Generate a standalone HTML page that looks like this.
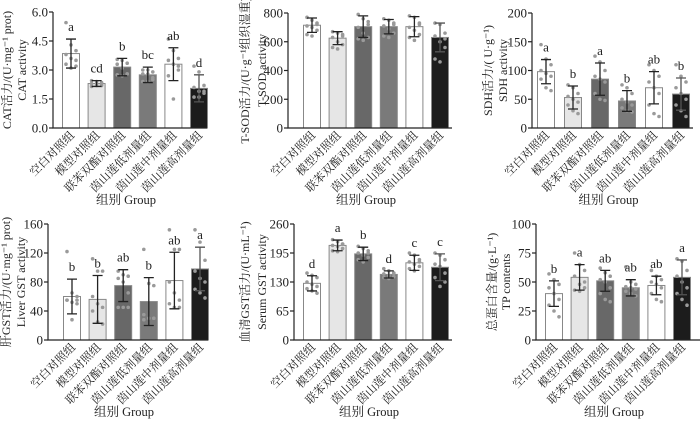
<!DOCTYPE html>
<html><head><meta charset="utf-8">
<style>
html,body{margin:0;padding:0;background:#fff;}
svg{display:block;font-family:"Liberation Serif","Noto Serif CJK SC",serif;}
</style></head>
<body>
<svg id="chart" width="700" height="429" viewBox="0 0 700 429" xmlns="http://www.w3.org/2000/svg"></svg>
<script>
const categories = ["空白对照组","模型对照组","联苯双酯对照组","茵山莲低剂量组","茵山莲中剂量组","茵山莲高剂量组"];
const catMeans = [3.85,2.3,3.15,2.75,3.3,2.05];
const catSd = [0.75,0.15,0.45,0.4,0.85,0.7];
const catLetters = ["a","cd","b","bc","ab","d"];
const catTicks = ["0.0","1.5","3.0","4.5","6.0"];
const catPts = [[5.45,4.3,4.0,3.8,3.6,3.5,3.3,3.1,3.2],[2.45,2.4,2.35,2.3,2.3,2.2,2.15,2.2,2.25],[3.55,3.5,3.35,3.3,3.1,2.8,2.75,2.7,2.8],[3.0,3.0,2.9,2.8,2.8,2.5,2.4,2.4,2.6],[4.6,4.0,3.6,3.5,3.3,3.0,2.7,1.5,3.2],[3.2,2.9,2.2,2.1,1.9,1.8,1.6,1.6,1.9]];
const sodMeans = [715,625,705,705,705,630];
const sodSd = [50,45,75,50,70,100];
const sodTicks = ["0","200","400","600","800"];
const sodPts = [[770,750,730,710,700,680,650,640,720],[670,660,650,630,600,580,560,550,640],[790,760,740,700,660,630,620,610,720],[760,750,730,710,690,660,640,630,720],[780,770,720,700,680,650,630,610,730],[730,720,660,640,600,560,480,460,620]];
const sdhMeans = [98,53,85,47,70,59];
const sdhSd = [21,20,28,18,28,28];
const sdhLetters = ["a","b","a","b","ab","b"];
const sdhTicks = ["0","50","100","150","200"];
const sdhPts = [[145,120,110,100,95,90,85,70,65],[75,70,60,55,50,45,40,30,25],[125,115,100,90,85,80,60,50,48],[75,70,60,50,45,40,35,30,28],[110,100,90,80,70,60,40,25,20],[110,90,80,70,60,50,40,30,20]];
const lgstMeans = [60,56,75,53,82,98];
const lgstSd = [24,33,22,33,39,30];
const lgstLetters = ["b","b","ab","b","ab","a"];
const lgstTicks = ["0","40","80","120","160"];
const lgstPts = [[122,65,55,55,52,50,55,28,60],[112,95,95,60,50,45,40,25,22],[95,90,88,85,80,65,45,45,45],[125,78,75,35,30,30,28,30,30],[152,125,125,80,65,55,50,45,45],[152,135,110,95,85,80,70,65,58]];
const sgstMeans = [127,212,193,147,173,163];
const sgstSd = [17,12,15,8,17,30];
const sgstLetters = ["d","a","b","d","c","c"];
const sgstTicks = ["0","65","130","195","260"];
const sgstPts = [[150,145,140,130,125,120,115,110,105],[225,220,215,212,210,205,200,198,215],[210,205,200,195,190,185,180,175,195],[160,155,150,148,145,142,140,138,150],[195,190,180,175,170,165,160,155,175],[195,190,180,170,165,150,140,120,130]];
const tpMeans = [40,54,51,45,47,54];
const tpSd = [11,11,9,7,8,15];
const tpLetters = ["b","a","ab","ab","ab","a"];
const tpTicks = ["0","25","50","75","100"];
const tpPts = [[57,52,48,45,40,35,30,25,20],[75,65,60,55,48,45,43,42,50],[62,58,55,52,50,45,40,35,33],[63,50,48,46,45,44,42,40,38],[60,55,52,50,48,45,40,35,33],[70,68,60,55,50,45,40,35,30]];
const ymaxs = [6,800,200,160,260,100];

const fills = ["#ffffff","#e6e6e6","#686868","#7a7a7a","#ffffff","#1c1c1c"];
const svg = document.getElementById('chart');
const NS = "http://www.w3.org/2000/svg";
function mk(tag, attrs, parent){const e=document.createElementNS(NS,tag);for(const k in attrs)e.setAttribute(k,attrs[k]);(parent||svg).appendChild(e);return e;}

const panels = [
 {name:"cat",means:catMeans,sd:catSd,letters:catLetters,ticks:catTicks,pts:catPts,ymax:ymaxs[0],ax:53,top:12,bot:128,c0:71,step:25.6,end:207,t1:"CAT活力/(U·mg⁻¹ prot)",t2:"CAT activity",tx1:8,tx2:23},
 {name:"tsod",means:sodMeans,sd:sodSd,letters:null,ticks:sodTicks,pts:sodPts,ymax:ymaxs[1],ax:288,top:13,bot:128,c0:312,step:25.6,end:452,t1:"T-SOD活力/(U·g⁻¹组织湿重)",t2:"T-SOD activity",tx1:246,tx2:263},
 {name:"sdh",means:sdhMeans,sd:sdhSd,letters:sdhLetters,ticks:sdhTicks,pts:sdhPts,ymax:ymaxs[2],ax:532,top:13,bot:128,c0:546,step:27,end:693,t1:"SDH活力/( U·g⁻¹)",t2:"SDH activity",tx1:489,tx2:504},
 {name:"liver-gst",means:lgstMeans,sd:lgstSd,letters:lgstLetters,ticks:lgstTicks,pts:lgstPts,ymax:ymaxs[3],ax:48,top:224,bot:340,c0:72,step:25.6,end:208,t1:"肝GST活力/(U·mg⁻¹ prot)",t2:"Liver GST activity",tx1:7,tx2:22},
 {name:"serum-gst",means:sgstMeans,sd:sgstSd,letters:sgstLetters,ticks:sgstTicks,pts:sgstPts,ymax:ymaxs[4],ax:294,top:224,bot:340,c0:312,step:25.6,end:452,t1:"血清GST活力/(U·mL⁻¹)",t2:"Serum GST activity",tx1:246,tx2:263},
 {name:"tp",means:tpMeans,sd:tpSd,letters:tpLetters,ticks:tpTicks,pts:tpPts,ymax:ymaxs[5],ax:536,top:224,bot:340,c0:554,step:25.6,end:700,t1:"总蛋白含量/(g·L⁻¹)",t2:"TP contents",tx1:493,tx2:507}
];

panels.forEach(p=>{
  const g = mk('g',{});
  
  
  const y = v => p.bot - v/p.ymax*(p.bot-p.top);
  const x = i => p.c0 + i*p.step;
  p.means.forEach((m,i)=>{
    const r = mk('rect',{x:x(i)-8.5,y:y(m),width:17,height:p.bot-y(m),fill:fills[i],stroke:"#888","stroke-width":1},g);
    
    
    p.pts[i].forEach((v,j)=>{
      const c = mk('circle',{cx:x(i)+((j%3)-1)*5,cy:y(v),r:1.8,fill:"#9a9a9a"},g);
      
      
    });
    const col = i===5 ? "#555" : "#222";
    const e = mk('path',{d:`M${x(i)} ${y(m-p.sd[i])}V${y(m+p.sd[i])}M${x(i)-5} ${y(m+p.sd[i])}h10M${x(i)-5} ${y(m-p.sd[i])}h10`,stroke:col,"stroke-width":1.3,fill:"none"},g);
    
    
    if(p.letters){
      const t = mk('text',{x:x(i),y:y(m+p.sd[i])-8,"font-size":13,"text-anchor":"middle",fill:"#222"},g);
      t.textContent = p.letters[i];
      
      
    }
    const lx = x(i)+4, ly = p.bot+8;
    const xl = mk('text',{x:lx,y:ly,"font-size":11.5,"text-anchor":"end",fill:"#222",transform:`rotate(-45 ${lx} ${ly})`},g);
    xl.textContent = categories[i];
    
    
  });
  const a = mk('path',{d:`M${p.ax} ${p.top}V${p.bot}H${p.end}`,stroke:"#222","stroke-width":1.2,fill:"none"},g);
  
  
  p.ticks.forEach((t,k)=>{
    const v = k*p.ymax/(p.ticks.length-1);
    mk('line',{x1:p.ax-4,x2:p.ax,y1:y(v),y2:y(v),stroke:"#222","stroke-width":1.2},g);
    const tl = mk('text',{x:p.ax-5,y:y(v)+4.5,"font-size":13,"text-anchor":"end",fill:"#222"},g);
    tl.textContent = t;
    
    
  });
  const cy = (p.top+p.bot)/2;
  const y1 = mk('text',{x:p.tx1,y:cy,"font-size":12,"text-anchor":"middle",fill:"#222",transform:`rotate(-90 ${p.tx1} ${cy})`,"dominant-baseline":"middle"},g);
  y1.textContent = p.t1;
  
  
  const y2 = mk('text',{x:p.tx2,y:cy,"font-size":12,"text-anchor":"middle",fill:"#222",transform:`rotate(-90 ${p.tx2} ${cy})`,"dominant-baseline":"middle"},g);
  y2.textContent = p.t2;
  
  
  const gx = (p.ax+p.end)/2 - 4;
  const xt = mk('text',{x:gx,y:p.bot+76,"font-size":12.5,"text-anchor":"middle",fill:"#222"},g);
  xt.textContent = "组别  Group";
  
  
});
</script>
</body></html>
